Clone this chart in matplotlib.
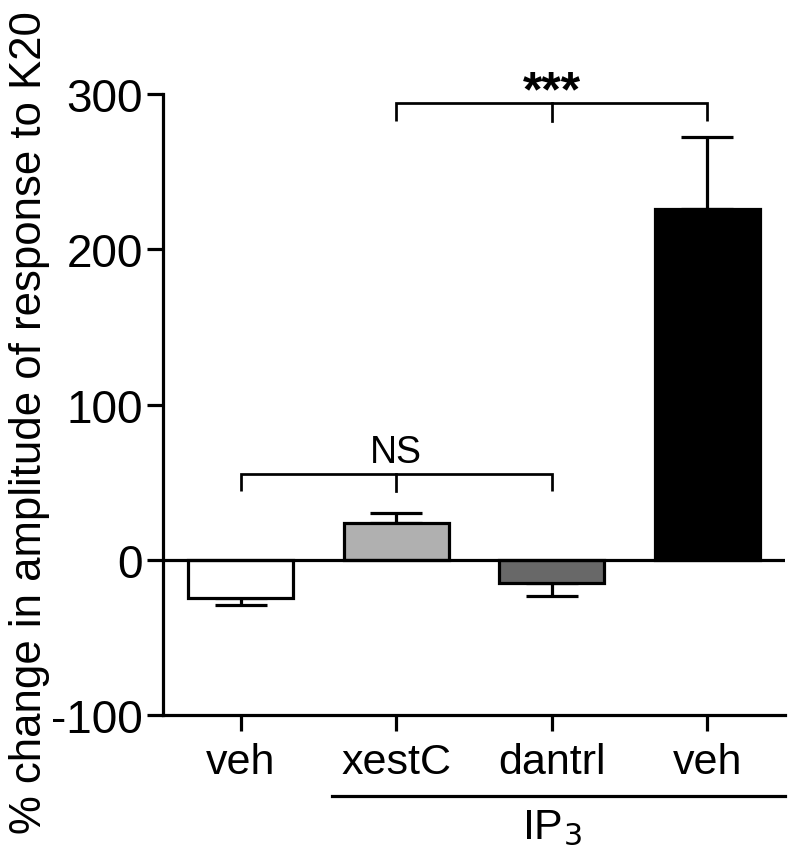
import matplotlib
matplotlib.use("Agg")
import matplotlib.pyplot as plt

plt.rcParams['font.family'] = ['Liberation Sans', 'DejaVu Sans']

groups = ['veh', 'xestC', 'dantrl', 'veh']
means = [-24.5, 24, -15, 226]
errs = [4.5, 6, 8.5, 46]
colors = ['white', '#b0b0b0', '#686868', 'black']
yticks = [-100, 0, 100, 200, 300]

lw = 2.3
fig = plt.figure(figsize=(7.88, 8.53), dpi=100)
ax = fig.add_axes([0.2069, 0.1606, 0.789, 0.728])

x = list(range(len(groups)))
ax.bar(x, means, width=0.675, color=colors, edgecolor='black', linewidth=lw, zorder=3)
for xi, m, e in zip(x, means, errs):
    sign = 1 if m >= 0 else -1
    ax.errorbar(xi, m, yerr=[[0 if sign > 0 else e], [e if sign > 0 else 0]],
                color='black', elinewidth=lw, capsize=19, capthick=lw, zorder=2)
ax.axhline(0, color='black', linewidth=lw, zorder=4)

ax.set_xlim(-0.5, 3.5)
ax.set_ylim(-100, 300)
ax.set_yticks(yticks)
ax.set_yticklabels([str(t) for t in yticks], fontsize=33)
ax.set_xticks(x)
ax.set_xticklabels(groups, fontsize=31)
ax.tick_params(direction='out', length=11.5, width=lw, pad=3)
ax.tick_params(axis='x', pad=8)
for s in ['top', 'right']:
    ax.spines[s].set_visible(False)
for s in ['left', 'bottom']:
    ax.spines[s].set_linewidth(lw)

fig.text(0.038, 0.505, '% change in amplitude of response to K20', rotation=90,
         ha='center', va='center', fontsize=31.5)

def bracket(x0, xm, x1, ytop, ydrop, label, ty, size, weight='normal'):
    ax.plot([x0, x0, x1, x1], [ydrop, ytop, ytop, ydrop], color='black', lw=lw * 0.85,
            clip_on=False, solid_capstyle='butt', solid_joinstyle='miter')
    ax.plot([xm, xm], [ytop, ydrop], color='black', lw=lw * 0.85, clip_on=False)
    ax.text(xm, ty, label, ha='center', va='bottom', fontsize=size,
            fontweight=weight, clip_on=False)

bracket(0, 1, 2, 55.5, 44.5, 'NS', 58, 27)
bracket(1, 2, 3, 294, 282.5, '***', 286, 36, 'bold')

# IP3 group line under the labels
trans = ax.get_xaxis_transform()
ax.plot([0.59, 3.5], [-0.13, -0.13], transform=trans, color='black', lw=lw, clip_on=False)
ax.text(2.0, -0.148, r'IP$_3$', transform=trans, ha='center', va='top', fontsize=31)

fig.savefig('out.png', dpi=100)
